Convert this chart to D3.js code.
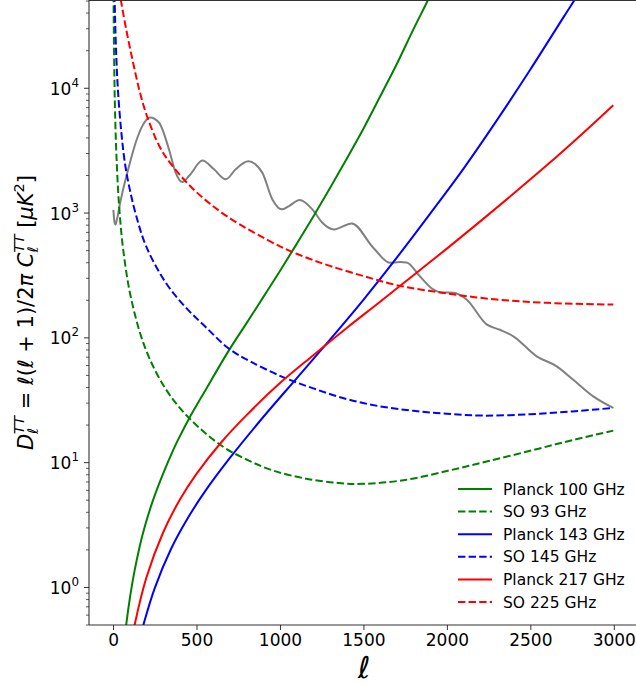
<!DOCTYPE html>
<html>
<head>
<meta charset="utf-8">
<script src="https://cdn.jsdelivr.net/npm/d3@7"></script>
<style>
  html, body { margin: 0; padding: 0; background: #fff; }
  svg { display: block; font-family: "DejaVu Sans", sans-serif; }
</style>
</head>
<body>
<svg id="chart" width="636" height="685"></svg>
<script>
// ---------------- data ----------------
const xTickValues = [0, 500, 1000, 1500, 2000, 2500, 3000];
const yTickExponents = [0, 1, 2, 3, 4];

// CMB TT spectrum  [ell, D_ell]
const cmbTT = [
  [2, 1050], [8, 850], [14, 800], [25, 900], [40, 1150], [56, 1445], [96, 2360],
  [136, 3640], [176, 4950], [221, 5780], [275, 5270], [335, 3214], [375, 2090],
  [415, 1757], [460, 2000], [535, 2610], [605, 2222], [675, 1846], [735, 2222],
  [810, 2576], [894, 2090], [954, 1277], [1010, 1061], [1054, 1128], [1118, 1260],
  [1194, 1061], [1254, 829], [1323, 733], [1430, 819], [1559, 523], [1659, 396],
  [1719, 401], [1758, 398], [1838, 309], [1918, 242], [1958, 230], [2038, 228],
  [2118, 201], [2238, 127], [2318, 115], [2398, 102], [2538, 70.5], [2658, 58.6],
  [2757, 45.8], [2877, 33.7], [2997, 27.2]
];

// noise curves  [ell, N_ell]
const planck100 = [
  [60, 0.29], [80, 0.51], [100, 0.8], [130, 1.37], [176, 2.6], [236, 4.8], [300, 8.1],
  [365, 12.9], [400, 16.1], [455, 22.3], [550, 37], [695, 79], [800, 130], [900, 210],
  [1000, 340], [1100, 560], [1200, 930], [1300, 1570], [1400, 2700], [1500, 4700],
  [1600, 8500], [1700, 15500], [1800, 29500], [1900, 55000], [1950, 80000]
];
const so93 = [
  [2, 100000], [4, 36000], [8, 12500], [12, 6500], [20, 2950], [36, 1150], [62, 491],
  [110, 200], [196, 80], [316, 38.5], [455, 22.6], [655, 13.4], [820, 10.2], [954, 8.6],
  [1150, 7.4], [1353, 6.8], [1500, 6.7], [1750, 7.2], [2018, 8.6], [2250, 10.2],
  [2517, 12.5], [2750, 15], [2997, 17.9]
];
const planck143 = [
  [150, 0.34], [186, 0.52], [250, 0.98], [350, 2.05], [450, 3.6], [550, 5.8], [700, 10.8],
  [900, 23], [1100, 47], [1300, 96], [1500, 200], [1700, 435], [1900, 980], [2100, 2250],
  [2300, 5500], [2500, 14000], [2700, 37000], [2800, 60000], [2850, 78000]
];
const so145 = [
  [8, 68000], [12, 37000], [20, 17200], [30, 9300], [50, 4350], [72, 2450], [100, 1540],
  [140, 929], [200, 530], [316, 274], [435, 174], [555, 121], [695, 81], [820, 64.5],
  [1014, 48.3], [1200, 39], [1400, 32], [1600, 28], [1800, 25.8], [2000, 24.4],
  [2218, 23.6], [2500, 24.2], [2750, 25.5], [2997, 27.2]
];
const planck217 = [
  [100, 0.3], [130, 0.5], [200, 1.19], [300, 2.73], [400, 5.0], [500, 8.05], [650, 14.5],
  [800, 23.8], [1000, 43], [1200, 72], [1400, 119], [1600, 193], [1800, 315], [2000, 514],
  [2200, 850], [2400, 1420], [2600, 2400], [2800, 4150], [2997, 7250]
];
const so225 = [
  [38, 62000], [46, 51400], [82, 28000], [122, 15500], [160, 9300], [202, 6000],
  [277, 3420], [341, 2510], [481, 1540], [681, 937], [1000, 536], [1150, 440],
  [1299, 374], [1500, 310], [1700, 262], [2000, 225], [2298, 201], [2600, 189], [2997, 183]
];

const seriesNames = ["Planck 100 GHz", "SO 93 GHz", "Planck 143 GHz", "SO 145 GHz", "Planck 217 GHz", "SO 225 GHz"];

(function () {
const DASH = "7.4,3.2";
const series = [
  { name: seriesNames[0], data: planck100, color: "#008000", dash: null },
  { name: seriesNames[1], data: so93,      color: "#008000", dash: DASH },
  { name: seriesNames[2], data: planck143, color: "#0000ff", dash: null },
  { name: seriesNames[3], data: so145,     color: "#0000ff", dash: DASH },
  { name: seriesNames[4], data: planck217, color: "#ff0000", dash: null },
  { name: seriesNames[5], data: so225,     color: "#ff0000", dash: DASH }
];

// ---------------- layout ----------------
const W = 636, H = 685;
const pL = 89, pR = 639, pT = 0, pB = 625;
const svg = d3.select("#chart");

const x = d3.scaleLinear().domain([-144, 3151]).range([pL, pR]);
const y = d3.scaleLog().domain([0.4956, 50500]).range([pB, pT]);

svg.append("defs").append("clipPath").attr("id", "plotclip")
  .append("rect").attr("x", pL).attr("y", pT).attr("width", pR - pL).attr("height", pB - pT);

const plot = svg.append("g").attr("clip-path", "url(#plotclip)");
const cmbLine = d3.line().x(d => x(d[0])).y(d => y(d[1])).curve(d3.curveMonotoneX);
const noiseLine = d3.line().x(d => x(d[0])).y(d => y(d[1])).curve(d3.curveCatmullRom.alpha(0.5));

plot.append("path").datum(cmbTT).attr("d", cmbLine)
  .attr("fill", "none").attr("stroke", "#808080").attr("stroke-width", 2);

series.forEach(s => {
  plot.append("path").datum(s.data).attr("d", noiseLine)
    .attr("fill", "none").attr("stroke", s.color).attr("stroke-width", 2)
    .attr("stroke-dasharray", s.dash);
});

// ---------------- axes ----------------
const axisColor = "#333";
const tickFont = 17;

const xAxis = d3.axisBottom(x).tickValues(xTickValues).tickFormat(d3.format("d"))
  .tickSize(5).tickSizeOuter(0).tickPadding(4);
const gx = svg.append("g").attr("transform", `translate(0,${pB})`).call(xAxis);
gx.select(".domain").remove();
gx.selectAll(".tick line").attr("stroke", axisColor).attr("stroke-width", 1);
gx.selectAll(".tick text").attr("font-size", tickFont).attr("fill", "#000")
  .attr("font-family", "DejaVu Sans");

const majorVals = yTickExponents.map(e => Math.pow(10, e));
const yAxis = d3.axisLeft(y).tickValues(majorVals).tickSize(5).tickSizeOuter(0).tickFormat("");
const gy = svg.append("g").attr("transform", `translate(${pL},0)`).call(yAxis);
gy.select(".domain").remove();
gy.selectAll(".tick line").attr("stroke", axisColor).attr("stroke-width", 1);

yTickExponents.forEach(e => {
  const t = svg.append("text")
    .attr("x", pL - 10).attr("y", y(Math.pow(10, e)) + 7)
    .attr("text-anchor", "end").attr("font-size", tickFont).attr("fill", "#000");
  t.append("tspan").text("10");
  t.append("tspan").attr("font-size", tickFont * 0.7).attr("dy", -8).text(String(e));
});

const minorVals = [];
for (let e = -1; e <= 4; e++) {
  for (let m = 2; m <= 9; m++) {
    const v = m * Math.pow(10, e);
    if (v >= 0.4956 && v <= 50500) minorVals.push(v);
  }
}
const yMinor = d3.axisLeft(y).tickValues(minorVals).tickSize(3).tickSizeOuter(0).tickFormat("");
const gym = svg.append("g").attr("transform", `translate(${pL},0)`).call(yMinor);
gym.select(".domain").remove();
gym.selectAll(".tick line").attr("stroke", axisColor).attr("stroke-width", 0.8);

svg.append("line").attr("x1", pL).attr("x2", pL).attr("y1", pT).attr("y2", pB)
  .attr("stroke", axisColor).attr("stroke-width", 1.1);
svg.append("line").attr("x1", pL).attr("x2", W).attr("y1", pB).attr("y2", pB)
  .attr("stroke", axisColor).attr("stroke-width", 1.1);
svg.append("line").attr("x1", pL).attr("x2", W).attr("y1", pT + 0.5).attr("y2", pT + 0.5)
  .attr("stroke", axisColor).attr("stroke-width", 1.1);

// ---------------- legend ----------------
const legendY0 = 489, legendDy = 22.6;
series.forEach((s, i) => {
  const ly = legendY0 + i * legendDy;
  svg.append("line").attr("x1", 458).attr("x2", 492).attr("y1", ly).attr("y2", ly)
    .attr("stroke", s.color).attr("stroke-width", 2).attr("stroke-dasharray", s.dash);
  svg.append("text").attr("x", 503).attr("y", ly + 5.5)
    .attr("font-size", 15.5).attr("fill", "#000").text(s.name);
});

// ---------------- axis labels ----------------
svg.append("text").attr("x", (pL + pR) / 2).attr("y", 678)
  .attr("text-anchor", "middle").attr("font-size", 30).attr("font-style", "italic")
  .attr("fill", "#000").text("ℓ");

function mathLabel(parent, pieces, size) {
  const inner = parent.append("g");
  let xpos = 0, lastStart = 0;
  pieces.forEach(p => {
    const startX = p.back ? lastStart : xpos;
    const t = inner.append("text")
      .attr("x", startX).attr("y", (p.dy || 0) * size)
      .attr("font-size", (p.s || 1) * size)
      .attr("font-style", p.it ? "italic" : "normal")
      .attr("fill", "#000")
      .style("white-space", "pre")
      .text(p.t);
    const w = t.node().getComputedTextLength();
    xpos = p.back ? Math.max(xpos, startX + w) : startX + w;
    lastStart = startX;
  });
  inner.attr("transform", `translate(${-xpos / 2},0)`);
}

const ylab = svg.append("g").attr("transform", `translate(33,${(pT + pB) / 2}) rotate(-90)`);
mathLabel(ylab, [
  { t: "D", it: true },
  { t: "ℓ", it: true, s: 0.7, dy: 0.25 },
  { t: "TT", it: true, s: 0.7, dy: -0.45, back: true },
  { t: " = ", it: false },
  { t: "ℓ", it: true },
  { t: "(", it: false },
  { t: "ℓ", it: true },
  { t: " + 1)/2", it: false },
  { t: "π", it: true },
  { t: " C", it: true },
  { t: "ℓ", it: true, s: 0.7, dy: 0.25 },
  { t: "TT", it: true, s: 0.7, dy: -0.45, back: true },
  { t: " [", it: false },
  { t: "μK", it: true },
  { t: "2", it: false, s: 0.7, dy: -0.45 },
  { t: "]", it: false }
], 21);
})();
</script>
</body>
</html>
